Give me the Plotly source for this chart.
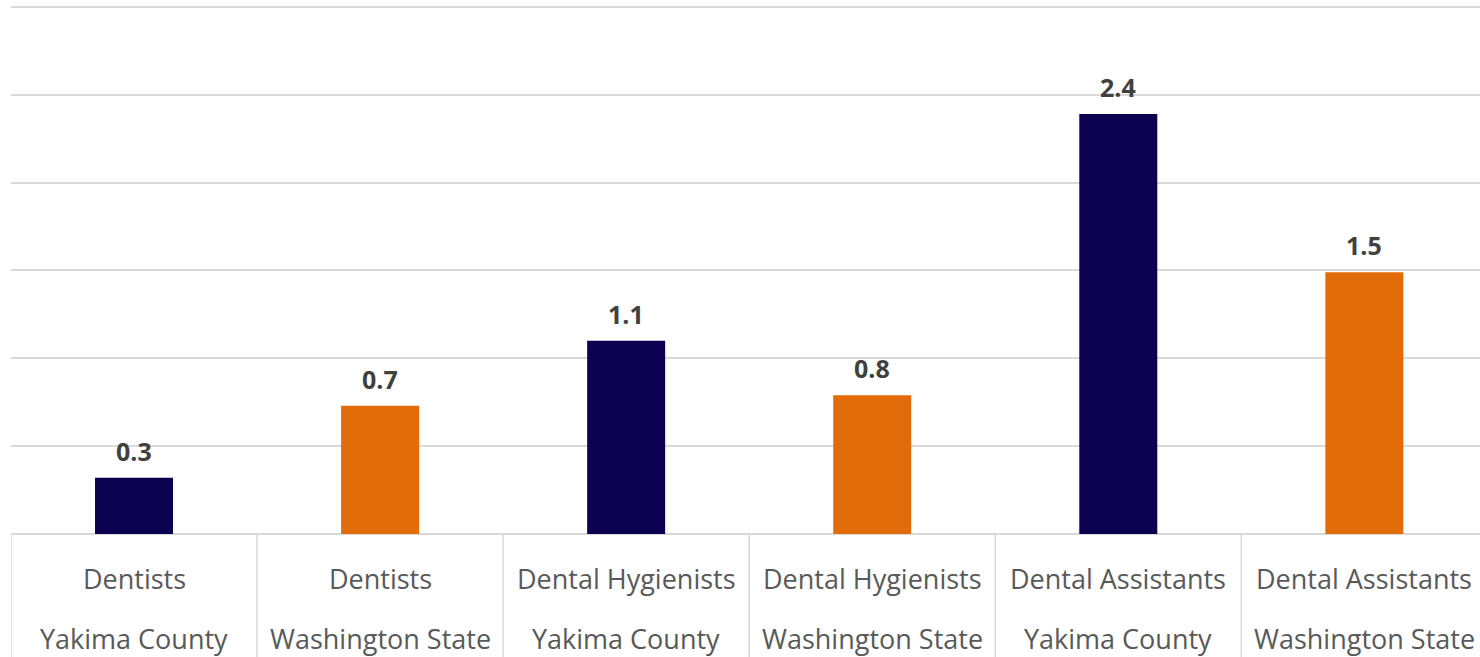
import plotly.graph_objects as go

occupations = ['Dentists', 'Dentists', 'Dental Hygienists', 'Dental Hygienists',
               'Dental Assistants', 'Dental Assistants']
regions = ['Yakima County', 'Washington State', 'Yakima County', 'Washington State',
           'Yakima County', 'Washington State']
values = [0.32, 0.73, 1.10, 0.79, 2.39, 1.49]
labels = ['0.3', '0.7', '1.1', '0.8', '2.4', '1.5']

NAVY = '#0c0050'
ORANGE = '#e36c0a'
GRID = '#d9d9d9'

cats = [f'{o}|{r}' for o, r in zip(occupations, regions)]
colors = [NAVY if r == 'Yakima County' else ORANGE for r in regions]

fig = go.Figure()
fig.add_trace(go.Bar(x=cats, y=values, marker=dict(color=colors, line=dict(width=0)),
                     width=0.317, hoverinfo='skip'))

#--- value labels above bars
for c, v, t in zip(cats, values, labels):
  fig.add_annotation(x=c, y=v, xref='x', yref='y', text=f'<b>{t}</b>', showarrow=False,
                     yanchor='bottom', yshift=8,
                     font=dict(family='Open Sans', size=25, color='#404040'))

#--- category labels (two rows) under the axis
for c, o, r in zip(cats, occupations, regions):
  fig.add_annotation(x=c, y=-0.0835, xref='x', yref='paper', text=o, showarrow=False,
                     yanchor='middle', font=dict(family='Open Sans', size=27, color='#595959'))
  fig.add_annotation(x=c, y=-0.197, xref='x', yref='paper', text=r, showarrow=False,
                     yanchor='middle', font=dict(family='Open Sans', size=27, color='#595959'))

#--- cell dividers below axis
for i in range(len(cats) + 1):
  fig.add_shape(type='line', xref='x', yref='paper', x0=i - 0.5, x1=i - 0.5, y0=0, y1=-0.3,
                line=dict(color=GRID, width=1.5), layer='below')

fig.update_layout(
  width=1480, height=657,
  margin=dict(l=11, r=0, t=5, b=123),
  paper_bgcolor='white', plot_bgcolor='white',
  showlegend=False,
  xaxis=dict(range=[-0.5, 5.47], showticklabels=False, showgrid=False, zeroline=False,
             showline=False, ticks=''),
  yaxis=dict(range=[0, 3.01], tickvals=[0.5, 1.0, 1.5, 2.0, 2.5, 3.0], showticklabels=False,
             showgrid=True, gridcolor=GRID, gridwidth=1.5, zeroline=True, zerolinecolor=GRID,
             zerolinewidth=1.5, showline=False, ticks=''),
)

fig.write_html('out.html', config={'displayModeBar': False},
               post_script="document.body.style.margin='0';")
